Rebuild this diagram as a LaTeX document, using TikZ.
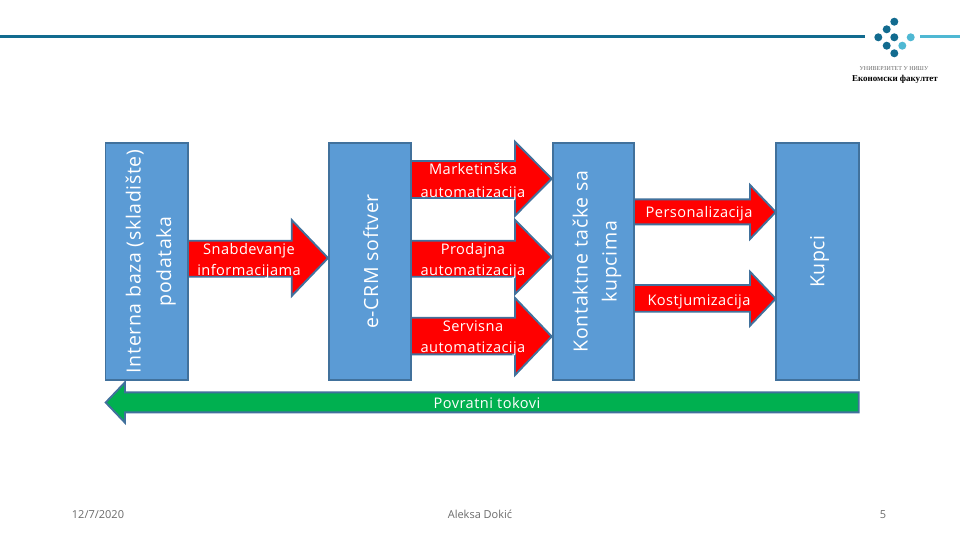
\documentclass[tikz,border=0pt]{standalone}
\usepackage{fontspec}
\setmainfont{Open Sans}
\newfontfamily\logofont{Liberation Serif}
\newfontfamily\vfont[LetterSpace=3.3]{Open Sans}
\newfontfamily\afont[LetterSpace=3]{Open Sans}
\definecolor{boxblue}{HTML}{5B9BD5}
\definecolor{edgeblue}{HTML}{41719C}
\definecolor{flowgreen}{HTML}{00B050}
\definecolor{tealdark}{HTML}{126B8F}
\definecolor{teallight}{HTML}{4FB8D3}
\definecolor{footgrey}{HTML}{6B6B6B}
\tikzset{
  bluebox/.style={draw=edgeblue,fill=boxblue,line width=1.9pt},
  redarrow/.style={draw=edgeblue,fill=red,line width=1.9pt,line join=miter},
  greenarrow/.style={draw=edgeblue,fill=flowgreen,line width=1.9pt,line join=miter},
  vlabel/.style={text=white,rotate=90,font=\vfont\fontsize{19.5}{19.5}\selectfont,inner sep=0pt,anchor=base},
  alabel/.style={text=white,font=\afont\fontsize{14.6}{14.6}\selectfont,inner sep=0pt,anchor=base},
  footer/.style={text=footgrey,font=\fontsize{11}{11}\selectfont,inner sep=0pt,anchor=base},
  dotd/.style={circle,fill=tealdark,minimum size=8pt,inner sep=0pt},
  dotl/.style={circle,fill=teallight,minimum size=8pt,inner sep=0pt},
}
% #1 x start, #2 x head, #3 x tip, #4 body top, #5 body bottom, #6 head top, #7 head bottom
\newcommand{\rarrow}[7]{%
  \draw[redarrow] (#1,#4) -- (#2,#4) -- (#2,#6) -- (#3,{(#6+#7)/2}) -- (#2,#7) -- (#2,#5) -- (#1,#5) -- cycle;}
\begin{document}
\begin{tikzpicture}[x=1pt,y=-1pt]
\useasboundingbox (0,0) rectangle (960,540);
\fill[white] (0,0) rectangle (960,540);
% header
\coordinate (hl0) at (0,36.5);
\coordinate (hl1) at (865,36.5);
\coordinate (hr0) at (920,36.5);
\coordinate (hr1) at (960,36.5);
\draw[tealdark,line width=3pt] (hl0) -- (hl1);
\draw[teallight,line width=3pt] (hr0) -- (hr1);
\node[dotd] (d1) at (894.3,21.7) {};
\node[dotd] (d2) at (886.7,29.3) {};
\node[dotd] (d3) at (878.3,37.3) {};
\node[dotd] (d4) at (894.3,37.3) {};
\node[dotl] (d5) at (910.7,37.3) {};
\node[dotd] (d6) at (886.7,45.7) {};
\node[dotl] (d7) at (902.3,45.7) {};
\node[dotd] (d8) at (894.3,53.3) {};
\node[inner sep=0pt,text=footgrey,font=\logofont\fontsize{6}{6}\selectfont] (logo1) at (894,69) {УНИВЕРЗИТЕТ У НИШУ};
\node[inner sep=0pt,text=black,font=\logofont\bfseries\fontsize{9}{9}\selectfont] (logo2) at (895,79) {Економски факултет};
% boxes
\draw[bluebox] (105.5,143) rectangle (188,380);
\draw[bluebox] (329,143) rectangle (411,380);
\draw[bluebox] (552.7,143) rectangle (634,380);
\draw[bluebox] (775.7,143) rectangle (858.7,380);
\node[vlabel] (b1a) at (140.7,261.5) {Interna baza (skladište)};
\node[vlabel] (b1b) at (171,261.5) {podataka};
\node[vlabel] (b2) at (378,261.5) {e-CRM softver};
\node[vlabel] (b3a) at (587.7,261.5) {Kontaktne tačke sa};
\node[vlabel] (b3b) at (616.7,261.5) {kupcima};
\node[vlabel] (b4) at (824.3,261.5) {Kupci};
% arrows
\rarrow{188}{291.7}{328}{240.7}{276.7}{220}{296}
\rarrow{411}{515}{551.7}{161}{198}{141.7}{215.7}
\rarrow{411}{515}{551.7}{240.7}{276.7}{220}{294}
\rarrow{411}{515}{551.7}{317.7}{354.3}{298}{375}
\rarrow{634}{750}{775.7}{199.3}{224.3}{185}{239}
\rarrow{634}{750}{775.7}{285}{311.7}{271.7}{325.7}
\draw[greenarrow] (858.7,392.3) -- (125,392.3) -- (125,382.3) -- (105.7,402.5) -- (125,422.7) -- (125,412.3) -- (858.7,412.3) -- cycle;
% arrow labels
\node[alabel] (a1a) at (249,254) {Snabdevanje};
\node[alabel] (a1b) at (249,275) {informacijama};
\node[alabel] (a2a) at (473,175) {Marketinška};
\node[alabel] (a2b) at (473,197.5) {automatizacija};
\node[alabel] (a3a) at (473,254) {Prodajna};
\node[alabel] (a3b) at (473,275) {automatizacija};
\node[alabel] (a4a) at (473,331) {Servisna};
\node[alabel] (a4b) at (473,352.7) {automatizacija};
\node[alabel] (a5) at (699,217.7) {Personalizacija};
\node[alabel] (a6) at (699,305) {Kostjumizacija};
\node[alabel] (a7) at (487,408.3) {Povratni tokovi};
% footer
\node[footer] (f1) at (98,518.5) {12/7/2020};
\node[footer] (f2) at (480,518.5) {Aleksa Dokić};
\node[footer] (f3) at (883,518.5) {5};
\end{tikzpicture}
\end{document}
